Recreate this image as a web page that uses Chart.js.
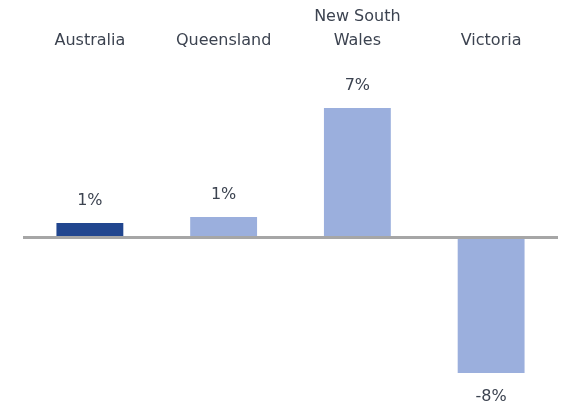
<!DOCTYPE html>
<html>
<head>
<meta charset="utf-8">
<script src="https://cdn.jsdelivr.net/npm/chart.js@4"></script>
<style>
  html, body { margin: 0; padding: 0; background: #fff; }
  #wrap { width: 562px; height: 406px; }
</style>
</head>
<body>
<div id="wrap"><canvas id="chart" width="562" height="406"></canvas></div>
<script>
const regions = [["Australia"], ["Queensland"], ["New South", "Wales"], ["Victoria"]];
const growth = [0.82, 1.16, 7.3, -7.64];
const barColours = ["#21468f", "#9bafdd", "#9bafdd", "#9bafdd"];

const textColour = "#3c4350";
const fontFamily = "'DejaVu Sans', sans-serif";

// value labels above / below each bar
const valueLabels = {
  id: "valueLabels",
  afterDatasetsDraw(chart) {
    const ctx = chart.ctx;
    const meta = chart.getDatasetMeta(0);
    ctx.save();
    ctx.font = "16px " + fontFamily;
    ctx.fillStyle = textColour;
    ctx.textAlign = "center";
    ctx.textBaseline = "middle";
    meta.data.forEach((bar, i) => {
      const v = growth[i];
      const txt = Math.round(v) + "%";
      const y = v >= 0 ? bar.y - 22 : bar.y + 24;
      ctx.fillText(txt, bar.x, y);
    });
    ctx.restore();
  }
};

new Chart(document.getElementById("chart"), {
  type: "bar",
  data: {
    labels: regions,
    datasets: [{
      data: growth,
      backgroundColor: barColours,
      borderWidth: 0,
      barPercentage: 0.5,
      categoryPercentage: 1
    }]
  },
  options: {
    responsive: false,
    animation: false,
    layout: { padding: { left: 23, right: 4, top: 0, bottom: 0 } },
    plugins: { legend: { display: false }, tooltip: { enabled: false } },
    scales: {
      x: {
        position: "top",
        grid: { display: false, drawTicks: false },
        border: { display: false },
        ticks: {
          color: textColour,
          font: { family: fontFamily, size: 16, lineHeight: 1.45 },
          padding: 4,
          maxRotation: 0
        },
        afterFit(scale) { scale.height = 56; }
      },
      y: {
        min: -9.5,
        max: 10.23,
        display: true,
        border: { display: false },
        ticks: { display: false, stepSize: 1 },
        grid: {
          drawTicks: false,
          color: ctx => ctx.tick && ctx.tick.value === 0 ? "#a6a6a6" : "rgba(0,0,0,0)",
          lineWidth: ctx => ctx.tick && ctx.tick.value === 0 ? 3 : 0
        },
        afterFit(scale) { scale.width = 0; }
      }
    }
  },
  plugins: [valueLabels]
});
</script>
</body>
</html>
